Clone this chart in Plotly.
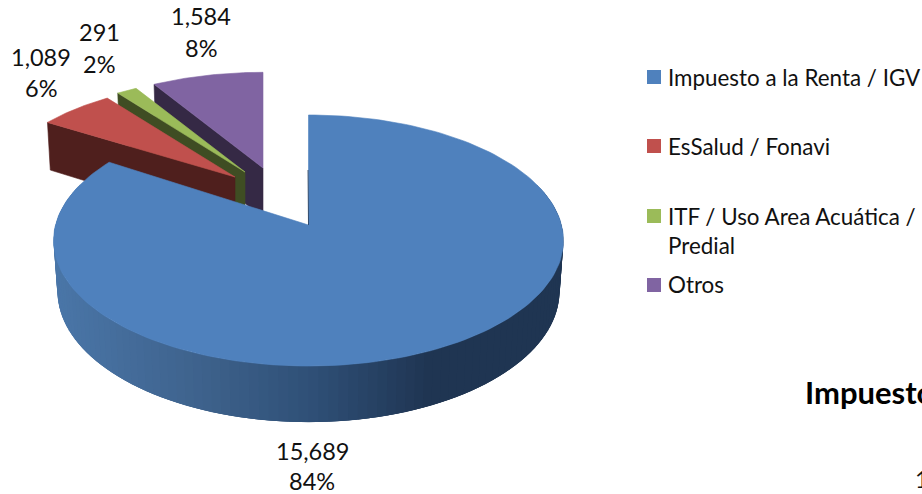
import math
import plotly.graph_objects as go

# ---- data ----
categories = ["Impuesto a la Renta / IGV", "EsSalud / Fonavi", "ITF / Uso Area Acuática /<br>Predial", "Otros"]
values = [15689, 1089, 291, 1584]
clipped_title = "Impuesto"
clipped_value = "1"

# ---- style ----
top_colors = ["#4F81BD", "#C0504D", "#9BBB59", "#8064A2"]
wall_colors = [None, "#4F1F1D", "#3F4D23", "#352945"]
FONT = "Lato"
TXT = "#111111"
K = 0.1235
# slice geometry: apex x, apex y, x radius, y radius (pixels)
geom = [(308.5, 225, 253, 123.6), (235, 177, 238, 107.5), (245, 172, 237, 107.5), (263, 168, 237, 107.5)]
DEPTH = 50
LOW_RY = 129 / 123.6
LOW_RX = 0.985
label_pos = [(312, 451, 481), (41, 57, 88), (99, 32, 64), (201, 16, 48)]
legend_y = [77, 146, 216, 285]
legend_text_y = [77, 146, 230.5, 284]
total = sum(values)


def proj(g, theta, low=False):
    cx, cy, rx, ry = g
    u, v = math.sin(theta), math.cos(theta)
    s = 1 / (1 + K * v)
    if low:
        return cx + rx * LOW_RX * u * s, cy + DEPTH - ry * LOW_RY * v * s
    return cx + rx * u * s, cy - ry * v * s


def poly(fig, xs, ys, color, lw=0.6):
    fig.add_trace(go.Scatter(x=xs, y=ys, mode="lines", fill="toself", fillcolor=color,
                             line=dict(color=color, width=lw), hoverinfo="skip", showlegend=False))


def grad(x):
    stops = [(53, (74, 118, 168)), (200, (62, 98, 140)), (310, (47, 80, 119)), (430, (31, 53, 82)), (565, (31, 53, 82))]
    for (a, ca), (b, cb) in zip(stops, stops[1:]):
        if x <= b:
            t = max(0, (x - a) / (b - a))
            return "rgb(%d,%d,%d)" % tuple(round(ca[i] + (cb[i] - ca[i]) * t) for i in range(3))
    return "rgb(31,53,82)"


# slice angle spans, clockwise from the top
spans = []
acc = 0
for v in values:
    spans.append((acc / total * 2 * math.pi, (acc + v) / total * 2 * math.pi))
    acc += v

fig = go.Figure()


def arc(g, a, b, n=40):
    return [proj(g, a + (b - a) * i / n) for i in range(n + 1)]


# small slices, back to front: wall then top
for i in (3, 2, 1):
    g = geom[i]
    a, b = spans[i]
    p0 = proj(g, a)
    p1 = proj(g, a, True)
    apex_low = (g[0], g[1] + DEPTH)
    poly(fig, [p0[0], g[0], apex_low[0], p1[0], p0[0]], [p0[1], g[1], apex_low[1], p1[1], p0[1]], wall_colors[i])
    pts = arc(g, a, b)
    poly(fig, [g[0]] + [p[0] for p in pts] + [g[0]], [g[1]] + [p[1] for p in pts] + [g[1]], top_colors[i])

# large slice: shaded outer wall, each band overlapping the next so no seams show
g = geom[0]
a, b = spans[0]
n = 110
t0, t1 = math.radians(70), math.radians(290)
step = (t1 - t0) / n
for j in range(n):
    ta = t0 + step * j
    tb = ta + step * (3 if j < n - 3 else 1)
    q = [proj(g, ta), proj(g, tb), proj(g, tb, True), proj(g, ta, True)]
    xm = (proj(g, ta)[0] + proj(g, ta + step)[0]) / 2
    poly(fig, [p[0] for p in q] + [q[0][0]], [p[1] for p in q] + [q[0][1]], grad(xm), lw=0)
pts = arc(g, a, b, 180)
poly(fig, [g[0]] + [p[0] for p in pts] + [g[0]], [g[1]] + [p[1] for p in pts] + [g[1]], top_colors[0])
# thin dark edge visible along the start of the large slice
fig.add_trace(go.Scatter(x=[g[0] - 0.5, g[0]], y=[g[1] - 55, g[1]], mode="lines",
                         line=dict(color="#1F3552", width=0.8), hoverinfo="skip", showlegend=False))

# legend swatches
for c, y in zip(top_colors, legend_y):
    fig.add_trace(go.Scatter(x=[654], y=[y], mode="markers", hoverinfo="skip", showlegend=False,
                             marker=dict(symbol="square", size=14, color=c, line=dict(width=0))))

ann = []
for v, (x, y1, y2) in zip(values, label_pos):
    ann.append(dict(x=x, y=y1, text=f"{v:,}", xanchor="center", yanchor="middle",
                    font=dict(family=FONT, size=23.5, color=TXT), showarrow=False))
    ann.append(dict(x=x, y=y2, text=f"{round(v / total * 100)}%", xanchor="center", yanchor="middle",
                    font=dict(family=FONT, size=23.5, color=TXT), showarrow=False))
for c, y in zip(categories, legend_text_y):
    ann.append(dict(x=666, y=y, text=c, xanchor="left", yanchor="middle", align="left",
                    font=dict(family=FONT, size=22.4, color=TXT), showarrow=False))
ann.append(dict(x=803, y=392, text=f"<b>{clipped_title}</b>", xanchor="left", yanchor="middle",
                font=dict(family=FONT, size=31, color="#000000"), showarrow=False))
ann.append(dict(x=913, y=479, text=clipped_value, xanchor="left", yanchor="middle",
                font=dict(family=FONT, size=23.5, color=TXT), showarrow=False))

fig.update_layout(
    width=922, height=494, autosize=False,
    margin=dict(l=0, r=0, t=0, b=0),
    paper_bgcolor="white", plot_bgcolor="white",
    xaxis=dict(range=[0, 922], visible=False, fixedrange=True),
    yaxis=dict(range=[494, 0], visible=False, fixedrange=True),
    annotations=ann, showlegend=False,
)
fig.write_html("out.html", config={"displayModeBar": False},
               post_script="document.body.style.margin='0';document.body.style.overflow='hidden';")
